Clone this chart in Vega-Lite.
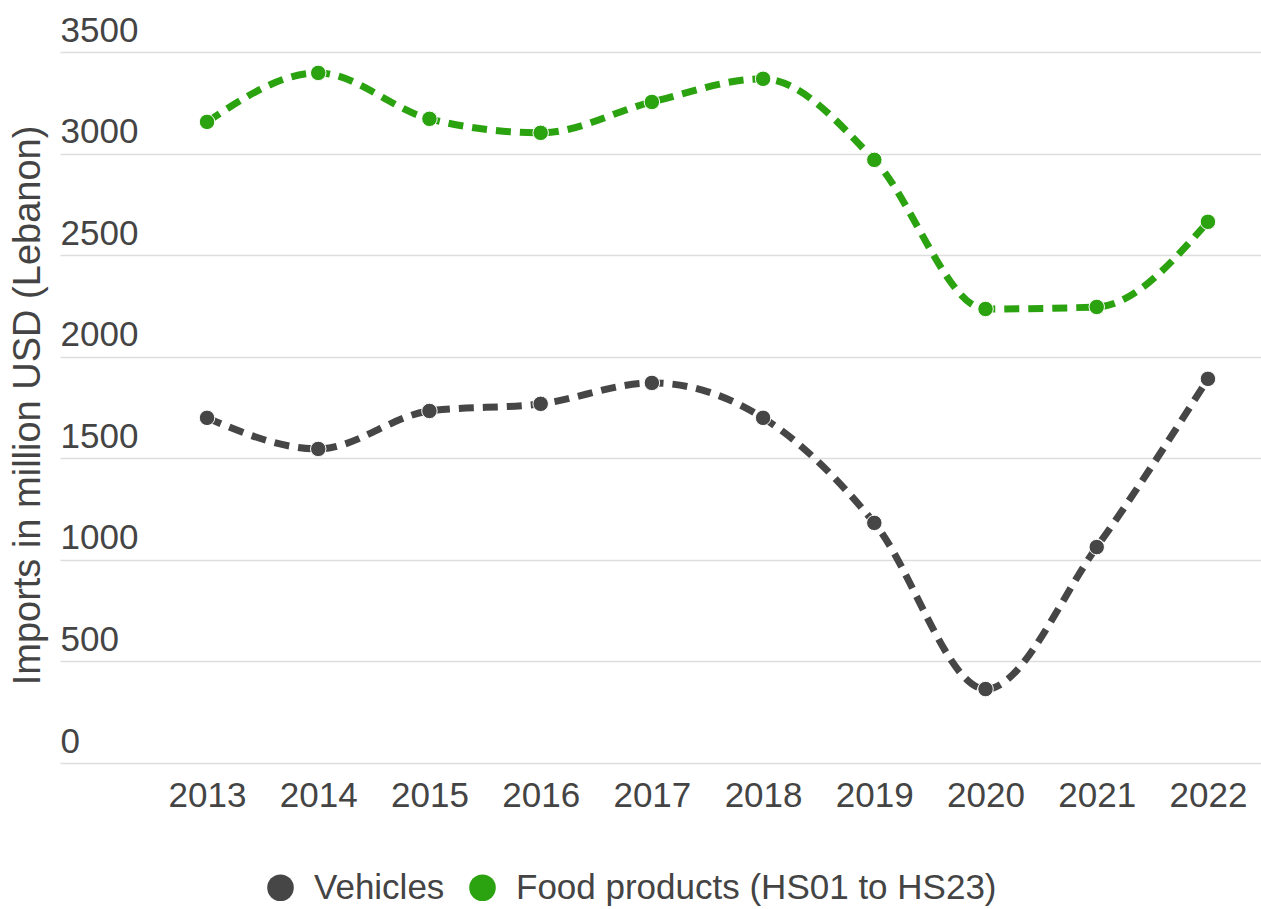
{
  "$schema": "https://vega.github.io/schema/vega-lite/v6.json",
  "autosize": "none",
  "width": 1201,
  "height": 711,
  "padding": {"left": 60, "top": 52, "right": 0, "bottom": 146},
  "background": "white",
  "config": {
    "view": {"stroke": null},
    "font": "Liberation Sans"
  },
  "data": {
    "values": [
      {"year": 2013, "series": "Vehicles", "value": 1699},
      {"year": 2014, "series": "Vehicles", "value": 1546},
      {"year": 2015, "series": "Vehicles", "value": 1733},
      {"year": 2016, "series": "Vehicles", "value": 1768},
      {"year": 2017, "series": "Vehicles", "value": 1871},
      {"year": 2018, "series": "Vehicles", "value": 1699},
      {"year": 2019, "series": "Vehicles", "value": 1182},
      {"year": 2020, "series": "Vehicles", "value": 364},
      {"year": 2021, "series": "Vehicles", "value": 1063},
      {"year": 2022, "series": "Vehicles", "value": 1891},
      {"year": 2013, "series": "Food products (HS01 to HS23)", "value": 3156},
      {"year": 2014, "series": "Food products (HS01 to HS23)", "value": 3397},
      {"year": 2015, "series": "Food products (HS01 to HS23)", "value": 3171},
      {"year": 2016, "series": "Food products (HS01 to HS23)", "value": 3102},
      {"year": 2017, "series": "Food products (HS01 to HS23)", "value": 3254},
      {"year": 2018, "series": "Food products (HS01 to HS23)", "value": 3368},
      {"year": 2019, "series": "Food products (HS01 to HS23)", "value": 2969},
      {"year": 2020, "series": "Food products (HS01 to HS23)", "value": 2235},
      {"year": 2021, "series": "Food products (HS01 to HS23)", "value": 2245},
      {"year": 2022, "series": "Food products (HS01 to HS23)", "value": 2664}
    ]
  },
  "encoding": {
    "x": {
      "field": "year",
      "type": "quantitative",
      "scale": {"domain": [2011.678, 2022.477], "nice": false, "zero": false},
      "axis": {
        "title": null,
        "values": [2013, 2014, 2015, 2016, 2017, 2018, 2019, 2020, 2021, 2022],
        "format": "d",
        "grid": false,
        "domain": false,
        "ticks": false,
        "tickSize": 0,
        "labelPadding": 15,
        "labelFontSize": 35,
        "labelColor": "#444444",
        "labelFlush": false,
        "labelOverlap": false
      }
    },
    "y": {
      "field": "value",
      "type": "quantitative",
      "scale": {"domain": [0, 3500], "nice": false},
      "axis": {
        "title": "Imports in million USD (Lebanon)",
        "titleFontSize": 38,
        "titleFontWeight": "normal",
        "titleColor": "#444444",
        "titleAngle": -90,
        "titleX": -32,
        "titleY": 353,
        "titleAlign": "center",
        "titleBaseline": "middle",
        "values": [0, 500, 1000, 1500, 2000, 2500, 3000, 3500],
        "format": "d",
        "grid": true,
        "gridColor": "#dddddd",
        "gridWidth": 1.5,
        "domain": false,
        "ticks": false,
        "tickSize": 0,
        "labelPadding": 0,
        "labelAlign": "left",
        "labelBaseline": "alphabetic",
        "labelOffset": -11,
        "labelFontSize": 35,
        "labelColor": "#444444",
        "labelFlush": false,
        "labelOverlap": false
      }
    }
  },
  "layer": [
    {
      "mark": {"type": "line", "interpolate": "monotone", "strokeWidth": 7, "strokeDash": [15, 9]},
      "encoding": {
        "color": {
          "field": "series",
          "type": "nominal",
          "scale": {"domain": ["Vehicles", "Food products (HS01 to HS23)"], "range": ["#464646", "#2ba20f"]},
          "legend": null
        }
      }
    },
    {
      "mark": {"type": "point", "filled": true, "size": 240, "opacity": 1, "stroke": "white", "strokeWidth": 1},
      "encoding": {
        "color": {
          "field": "series",
          "type": "nominal",
          "scale": {"domain": ["Vehicles", "Food products (HS01 to HS23)"], "range": ["#464646", "#2ba20f"]},
          "legend": {
            "title": null,
            "orient": "none",
            "direction": "horizontal",
            "legendX": 203,
            "legendY": 818,
            "padding": 0,
            "symbolType": "circle",
            "symbolSize": 707,
            "symbolStrokeWidth": 0,
            "symbolOpacity": 1,
            "labelFontSize": 35,
            "labelColor": "#444444",
            "labelOffset": 16,
            "columnPadding": 20,
            "labelLimit": 1000
          }
        }
      }
    }
  ],
  "resolve": {"legend": {"color": "independent"}}
}
